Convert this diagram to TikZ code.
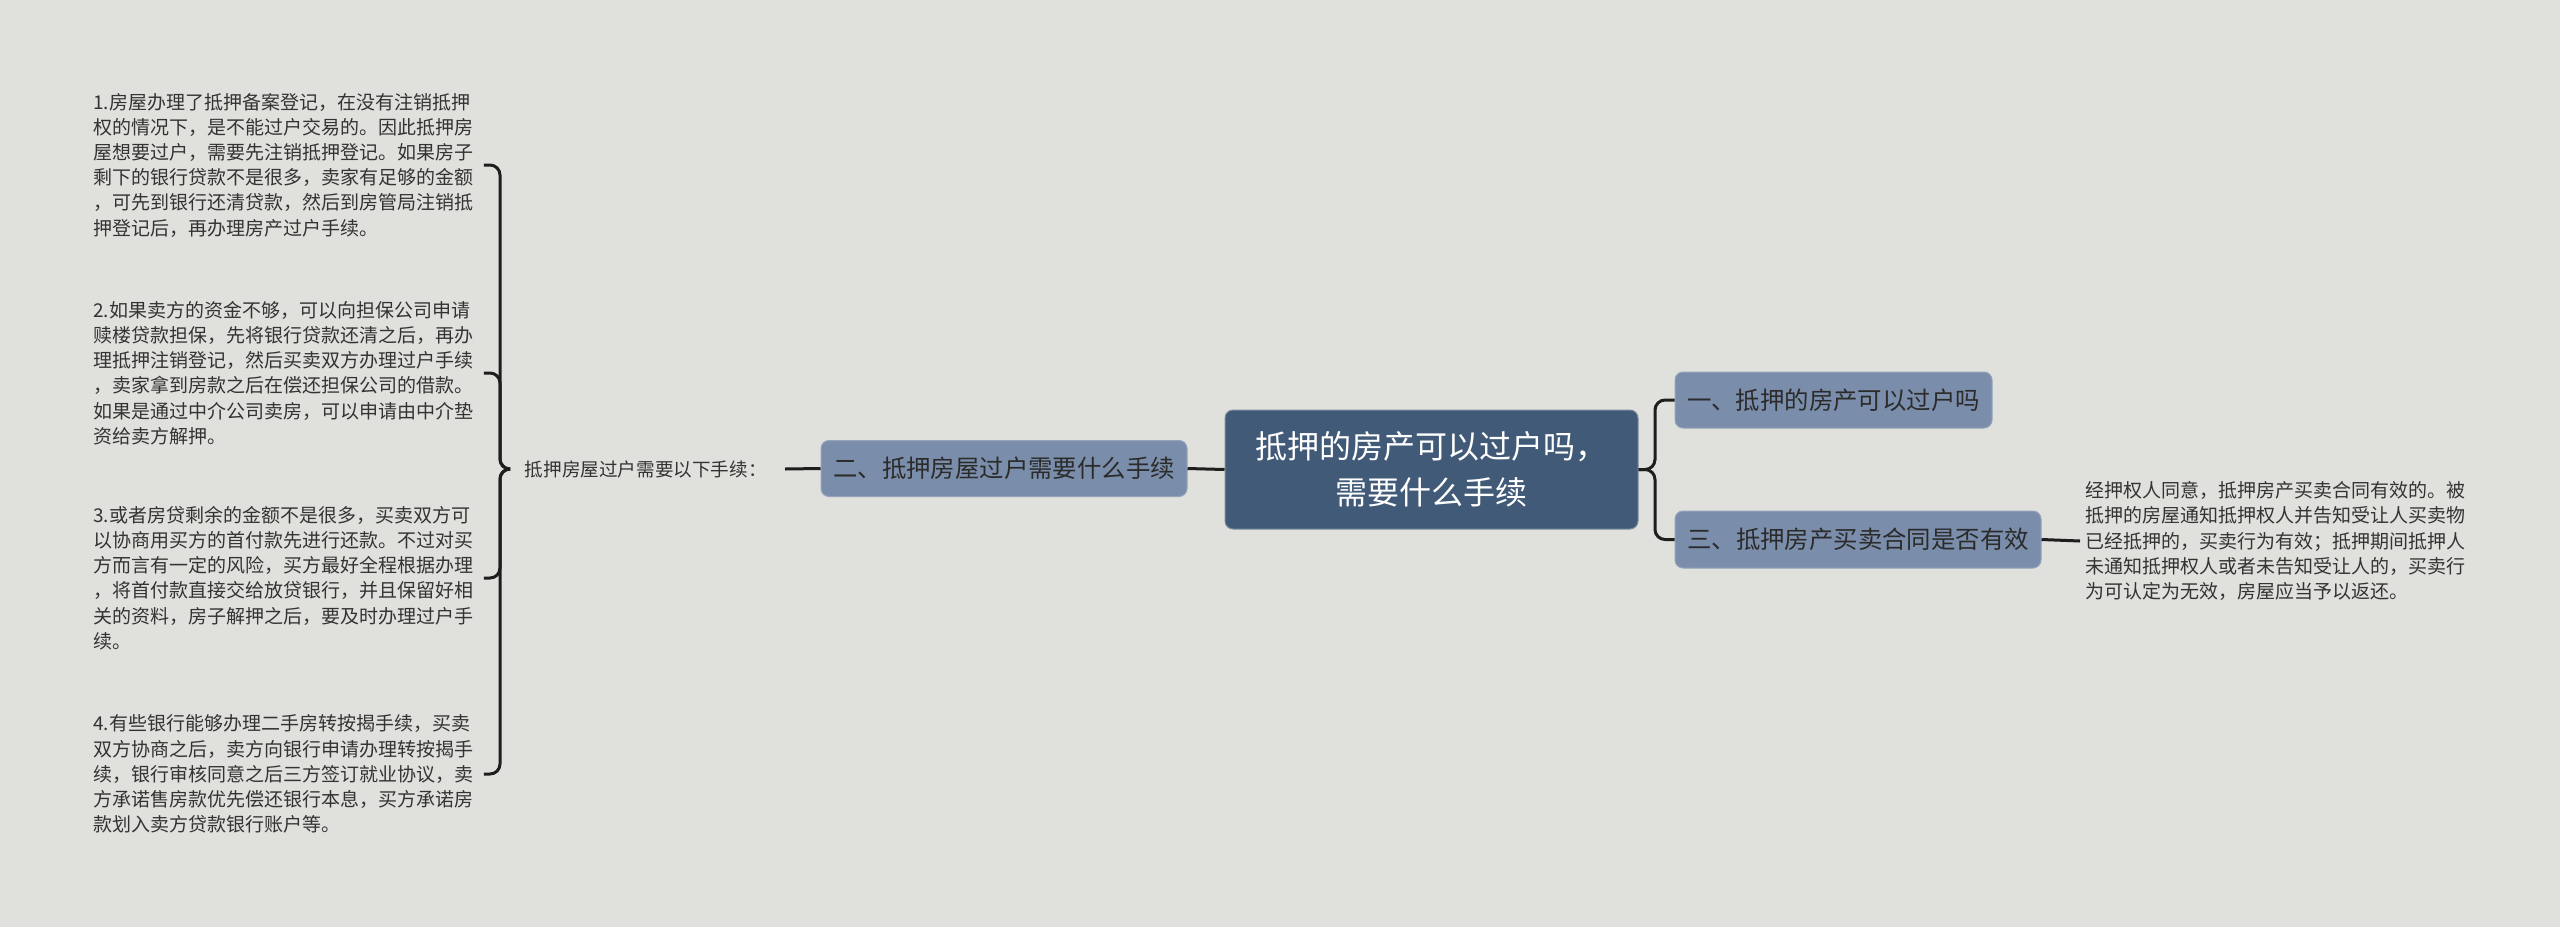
\documentclass[tikz,border=0pt]{standalone}
\usepackage{fontspec}
\setmainfont{Noto Sans CJK SC}
\definecolor{bg}{HTML}{E0E1DC}
\definecolor{mainfill}{HTML}{415A78}
\definecolor{subfill}{HTML}{7A8DAA}
\definecolor{subtext}{HTML}{2B2B2B}
\definecolor{notetext}{HTML}{333333}
\definecolor{linec}{HTML}{1E1E1E}
\tikzset{
  conn/.style={line width=1.5pt, draw=linec, rounded corners=5pt},
  centerbox/.style={rectangle, rounded corners=4pt, fill=mainfill, draw=mainfill!70!white, line width=0.5pt, text=white, align=center, font=\fontsize{16}{23}\selectfont, minimum width=206.5pt, minimum height=59.5pt},
  topic/.style={rectangle, rounded corners=4pt, fill=subfill, draw=subfill!80!white, line width=0.5pt, text=subtext, font=\fontsize{12.2}{15}\selectfont, minimum height=28pt},
  note/.style={text=notetext, font=\fontsize{9.5}{12.6}\selectfont, align=left, text width=192.5pt, inner sep=2.5pt},
  lab/.style={text=notetext, font=\fontsize{9.3}{12}\selectfont, inner xsep=9pt, inner ysep=2pt}
}
\begin{document}
\begin{tikzpicture}[x=0.5pt, y=-0.5pt]
\fill[bg] (0,0) rectangle (2560,927);
\useasboundingbox (0,0) rectangle (2560,927);

\node[centerbox] (c) at (1431.5,469.5) {抵押的房产可以过户吗，\\需要什么手续};

\node[topic, minimum width=183pt] (t2) at (1004,468.5) {二、抵押房屋过户需要什么手续};
\node[topic, minimum width=158.5pt] (t1) at (1833.5,400) {一、抵押的房产可以过户吗};
\node[topic, minimum width=183pt, minimum height=28.5pt] (t3) at (1858,539.5) {三、抵押房产买卖合同是否有效};

\node[lab, anchor=east] (l) at (785,469) {抵押房屋过户需要以下手续：};

\node[note, anchor=west] (n1) at (88,165) {1.房屋办理了抵押备案登记，在没有注销抵押\\权的情况下，是不能过户交易的。因此抵押房\\屋想要过户，需要先注销抵押登记。如果房子\\剩下的银行贷款不是很多，卖家有足够的金额\\，可先到银行还清贷款，然后到房管局注销抵\\押登记后，再办理房产过户手续。};
\node[note, anchor=west] (n2) at (88,373) {2.如果卖方的资金不够，可以向担保公司申请\\赎楼贷款担保，先将银行贷款还清之后，再办\\理抵押注销登记，然后买卖双方办理过户手续\\，卖家拿到房款之后在偿还担保公司的借款。\\如果是通过中介公司卖房，可以申请由中介垫\\资给卖方解押。};
\node[note, anchor=west] (n3) at (88,578) {3.或者房贷剩余的金额不是很多，买卖双方可\\以协商用买方的首付款先进行还款。不过对买\\方而言有一定的风险，买方最好全程根据办理\\，将首付款直接交给放贷银行，并且保留好相\\关的资料，房子解押之后，要及时办理过户手\\续。};
\node[note, anchor=west] (n4) at (88,774) {4.有些银行能够办理二手房转按揭手续，买卖\\双方协商之后，卖方向银行申请办理转按揭手\\续，银行审核同意之后三方签订就业协议，卖\\方承诺售房款优先偿还银行本息，买方承诺房\\款划入卖方贷款银行账户等。};

\node[note, anchor=west, text width=193pt] (r) at (2080,541) {经押权人同意，抵押房产买卖合同有效的。被\\抵押的房屋通知抵押权人并告知受让人买卖物\\已经抵押的，买卖行为有效；抵押期间抵押人\\未通知抵押权人或者未告知受让人的，买卖行\\为可认定为无效，房屋应当予以返还。};

% connectors
\draw[conn] (c.west) -- (t2.east);
\draw[conn] (t2.west) -- (l.east);
\foreach \n in {n1,n2,n3,n4} {
  \draw[conn] (l.west) -- (500,469) |- (\n.east);
}
\draw[conn] (c.east) -- (1655,469.5) |- (t1.west);
\draw[conn] (c.east) -- (1655,469.5) |- (t3.west);
\draw[conn] (t3.east) -- (r.west);
\end{tikzpicture}
\end{document}
